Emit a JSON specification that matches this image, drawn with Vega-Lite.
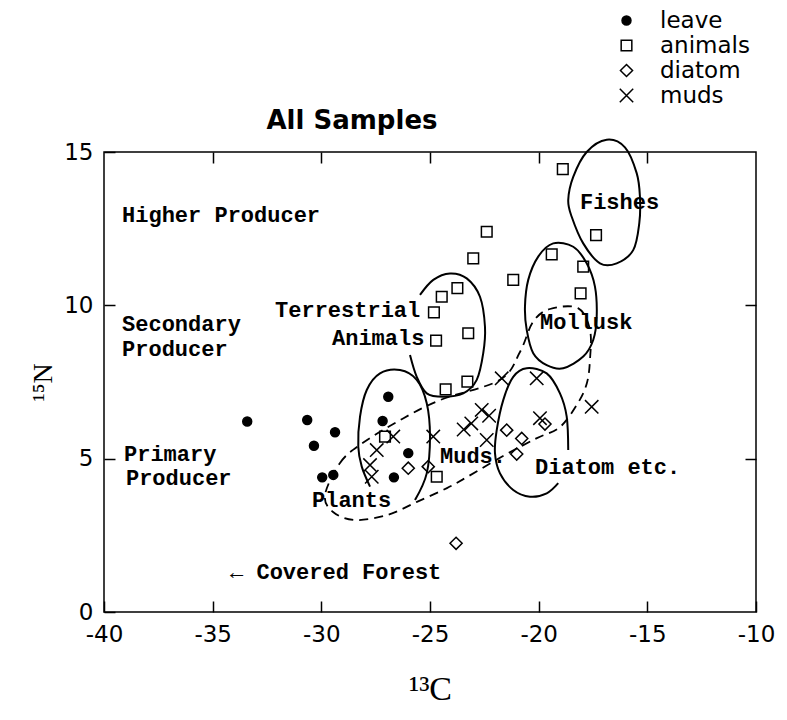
{
  "$schema": "https://vega.github.io/schema/vega-lite/v6.json",
  "autosize": {"type": "none"},
  "padding": {"left": 104, "top": 152, "right": 31, "bottom": 108},
  "width": 652,
  "height": 460,
  "background": "white",
  "title": {"text": "All Samples", "font": "DejaVu Sans", "fontSize": 26, "fontWeight": "bold", "anchor": "middle", "frame": "group", "dx": -78, "dy": 128, "offset": 3, "color": "black"},
  "config": {
    "view": {"stroke": "black", "strokeWidth": 1.5},
    "axis": {"domain": false, "grid": false, "tickColor": "black", "tickWidth": 1.5, "tickSize": -11, "labelColor": "black", "titleColor": "black"},
    "legend": {"padding": 0}
  },
  "datasets": {
    "points": [
      {"type": "leave", "c13": -33.41, "n15": 6.21},
      {"type": "leave", "c13": -30.65, "n15": 6.26},
      {"type": "leave", "c13": -29.37, "n15": 5.86},
      {"type": "leave", "c13": -30.34, "n15": 5.42},
      {"type": "leave", "c13": -29.96, "n15": 4.39},
      {"type": "leave", "c13": -29.45, "n15": 4.47},
      {"type": "leave", "c13": -26.92, "n15": 7.02},
      {"type": "leave", "c13": -27.18, "n15": 6.23},
      {"type": "leave", "c13": -26.0, "n15": 5.18},
      {"type": "leave", "c13": -26.66, "n15": 4.39},
      {"type": "animals", "c13": -18.89, "n15": 14.44},
      {"type": "animals", "c13": -22.39, "n15": 12.4},
      {"type": "animals", "c13": -17.36, "n15": 12.29},
      {"type": "animals", "c13": -23.01, "n15": 11.53},
      {"type": "animals", "c13": -19.4, "n15": 11.66},
      {"type": "animals", "c13": -17.95, "n15": 11.26},
      {"type": "animals", "c13": -21.17, "n15": 10.83},
      {"type": "animals", "c13": -18.07, "n15": 10.39},
      {"type": "animals", "c13": -23.74, "n15": 10.56},
      {"type": "animals", "c13": -24.46, "n15": 10.28},
      {"type": "animals", "c13": -24.82, "n15": 9.77},
      {"type": "animals", "c13": -24.72, "n15": 8.85},
      {"type": "animals", "c13": -23.24, "n15": 9.09},
      {"type": "animals", "c13": -23.28, "n15": 7.51},
      {"type": "animals", "c13": -24.28, "n15": 7.26},
      {"type": "animals", "c13": -27.07, "n15": 5.72},
      {"type": "animals", "c13": -24.69, "n15": 4.41},
      {"type": "diatom", "c13": -26.0, "n15": 4.69},
      {"type": "diatom", "c13": -25.08, "n15": 4.74},
      {"type": "diatom", "c13": -23.8, "n15": 2.24},
      {"type": "diatom", "c13": -21.47, "n15": 5.93},
      {"type": "diatom", "c13": -20.78, "n15": 5.66},
      {"type": "diatom", "c13": -21.01, "n15": 5.15},
      {"type": "diatom", "c13": -19.71, "n15": 6.13},
      {"type": "muds", "c13": -26.69, "n15": 5.72},
      {"type": "muds", "c13": -27.45, "n15": 5.28},
      {"type": "muds", "c13": -27.76, "n15": 4.79},
      {"type": "muds", "c13": -27.68, "n15": 4.41},
      {"type": "muds", "c13": -24.85, "n15": 5.72},
      {"type": "muds", "c13": -23.45, "n15": 5.95},
      {"type": "muds", "c13": -23.1, "n15": 6.15},
      {"type": "muds", "c13": -22.62, "n15": 6.59},
      {"type": "muds", "c13": -22.28, "n15": 6.4},
      {"type": "muds", "c13": -22.39, "n15": 5.61},
      {"type": "muds", "c13": -21.7, "n15": 7.62},
      {"type": "muds", "c13": -20.09, "n15": 7.62},
      {"type": "muds", "c13": -19.94, "n15": 6.32},
      {"type": "muds", "c13": -17.56, "n15": 6.69}
    ],
    "curves": [
      {"curve": "fish", "ord": 1, "c13": -16.87, "n15": 15.4},
      {"curve": "fish", "ord": 2, "c13": -16.03, "n15": 15.15},
      {"curve": "fish", "ord": 3, "c13": -15.49, "n15": 14.31},
      {"curve": "fish", "ord": 4, "c13": -15.34, "n15": 13.54},
      {"curve": "fish", "ord": 5, "c13": -15.37, "n15": 12.68},
      {"curve": "fish", "ord": 6, "c13": -15.65, "n15": 11.8},
      {"curve": "fish", "ord": 7, "c13": -16.41, "n15": 11.37},
      {"curve": "fish", "ord": 8, "c13": -17.18, "n15": 11.37},
      {"curve": "fish", "ord": 9, "c13": -17.95, "n15": 12.02},
      {"curve": "fish", "ord": 10, "c13": -18.48, "n15": 12.89},
      {"curve": "fish", "ord": 11, "c13": -18.64, "n15": 13.43},
      {"curve": "fish", "ord": 12, "c13": -18.41, "n15": 14.19},
      {"curve": "fish", "ord": 13, "c13": -17.79, "n15": 15.0},
      {"curve": "mollusk", "ord": 1, "c13": -19.33, "n15": 12.02},
      {"curve": "mollusk", "ord": 2, "c13": -18.41, "n15": 11.91},
      {"curve": "mollusk", "ord": 3, "c13": -17.79, "n15": 11.37},
      {"curve": "mollusk", "ord": 4, "c13": -17.41, "n15": 10.61},
      {"curve": "mollusk", "ord": 5, "c13": -17.33, "n15": 9.63},
      {"curve": "mollusk", "ord": 6, "c13": -17.49, "n15": 8.87},
      {"curve": "mollusk", "ord": 7, "c13": -17.95, "n15": 8.33},
      {"curve": "mollusk", "ord": 8, "c13": -18.87, "n15": 7.95},
      {"curve": "mollusk", "ord": 9, "c13": -19.63, "n15": 8.05},
      {"curve": "mollusk", "ord": 10, "c13": -20.25, "n15": 8.44},
      {"curve": "mollusk", "ord": 11, "c13": -20.55, "n15": 9.2},
      {"curve": "mollusk", "ord": 12, "c13": -20.63, "n15": 9.96},
      {"curve": "mollusk", "ord": 13, "c13": -20.48, "n15": 10.83},
      {"curve": "mollusk", "ord": 14, "c13": -20.02, "n15": 11.59},
      {"curve": "muds", "ord": 1, "c13": -29.83, "n15": 3.82},
      {"curve": "muds", "ord": 2, "c13": -29.14, "n15": 4.86},
      {"curve": "muds", "ord": 3, "c13": -28.22, "n15": 5.45},
      {"curve": "muds", "ord": 4, "c13": -26.52, "n15": 6.2},
      {"curve": "muds", "ord": 5, "c13": -24.54, "n15": 6.91},
      {"curve": "muds", "ord": 6, "c13": -21.78, "n15": 7.57},
      {"curve": "muds", "ord": 7, "c13": -20.86, "n15": 8.48},
      {"curve": "muds", "ord": 8, "c13": -20.26, "n15": 9.46},
      {"curve": "muds", "ord": 9, "c13": -19.48, "n15": 9.88},
      {"curve": "muds", "ord": 10, "c13": -18.19, "n15": 9.91},
      {"curve": "muds", "ord": 11, "c13": -17.64, "n15": 9.2},
      {"curve": "muds", "ord": 12, "c13": -17.64, "n15": 8.22},
      {"curve": "muds", "ord": 13, "c13": -17.78, "n15": 7.47},
      {"curve": "muds", "ord": 14, "c13": -18.19, "n15": 6.82},
      {"curve": "muds", "ord": 15, "c13": -19.02, "n15": 6.03},
      {"curve": "muds", "ord": 16, "c13": -20.08, "n15": 5.67},
      {"curve": "muds", "ord": 17, "c13": -21.55, "n15": 5.12},
      {"curve": "muds", "ord": 18, "c13": -23.3, "n15": 4.4},
      {"curve": "muds", "ord": 19, "c13": -24.22, "n15": 4.04},
      {"curve": "muds", "ord": 20, "c13": -25.6, "n15": 3.59},
      {"curve": "muds", "ord": 21, "c13": -26.98, "n15": 3.16},
      {"curve": "muds", "ord": 22, "c13": -28.45, "n15": 3.0},
      {"curve": "muds", "ord": 23, "c13": -29.46, "n15": 3.26},
      {"curve": "terrestrial", "ord": 1, "c13": -25.92, "n15": 8.38},
      {"curve": "terrestrial", "ord": 2, "c13": -25.61, "n15": 7.67},
      {"curve": "terrestrial", "ord": 3, "c13": -25.15, "n15": 7.13},
      {"curve": "terrestrial", "ord": 4, "c13": -24.39, "n15": 7.02},
      {"curve": "terrestrial", "ord": 5, "c13": -23.47, "n15": 7.13},
      {"curve": "terrestrial", "ord": 6, "c13": -22.85, "n15": 7.57},
      {"curve": "terrestrial", "ord": 7, "c13": -22.55, "n15": 8.44},
      {"curve": "terrestrial", "ord": 8, "c13": -22.47, "n15": 9.3},
      {"curve": "terrestrial", "ord": 9, "c13": -22.7, "n15": 10.28},
      {"curve": "terrestrial", "ord": 10, "c13": -23.31, "n15": 10.88},
      {"curve": "terrestrial", "ord": 11, "c13": -24.08, "n15": 11.04},
      {"curve": "terrestrial", "ord": 12, "c13": -24.85, "n15": 10.83},
      {"curve": "terrestrial", "ord": 13, "c13": -25.46, "n15": 10.34},
      {"curve": "plants", "ord": 1, "c13": -25.69, "n15": 3.65},
      {"curve": "plants", "ord": 2, "c13": -25.15, "n15": 4.52},
      {"curve": "plants", "ord": 3, "c13": -25.0, "n15": 5.72},
      {"curve": "plants", "ord": 4, "c13": -25.15, "n15": 6.81},
      {"curve": "plants", "ord": 5, "c13": -25.61, "n15": 7.57},
      {"curve": "plants", "ord": 6, "c13": -26.38, "n15": 7.89},
      {"curve": "plants", "ord": 7, "c13": -27.3, "n15": 7.78},
      {"curve": "plants", "ord": 8, "c13": -27.91, "n15": 7.24},
      {"curve": "plants", "ord": 9, "c13": -28.22, "n15": 6.37},
      {"curve": "plants", "ord": 10, "c13": -28.3, "n15": 5.39},
      {"curve": "plants", "ord": 11, "c13": -28.14, "n15": 4.74},
      {"curve": "plants", "ord": 12, "c13": -27.76, "n15": 4.09},
      {"curve": "diatom", "ord": 1, "c13": -18.64, "n15": 5.28},
      {"curve": "diatom", "ord": 2, "c13": -18.71, "n15": 6.37},
      {"curve": "diatom", "ord": 3, "c13": -19.02, "n15": 7.13},
      {"curve": "diatom", "ord": 4, "c13": -19.63, "n15": 7.78},
      {"curve": "diatom", "ord": 5, "c13": -20.55, "n15": 7.95},
      {"curve": "diatom", "ord": 6, "c13": -21.17, "n15": 7.67},
      {"curve": "diatom", "ord": 7, "c13": -21.63, "n15": 6.91},
      {"curve": "diatom", "ord": 8, "c13": -21.93, "n15": 5.93},
      {"curve": "diatom", "ord": 9, "c13": -22.01, "n15": 5.18},
      {"curve": "diatom", "ord": 10, "c13": -21.78, "n15": 4.52},
      {"curve": "diatom", "ord": 11, "c13": -21.17, "n15": 3.98},
      {"curve": "diatom", "ord": 12, "c13": -20.4, "n15": 3.76},
      {"curve": "diatom", "ord": 13, "c13": -19.63, "n15": 3.87},
      {"curve": "diatom", "ord": 14, "c13": -19.1, "n15": 4.2}
    ],
    "labels": [
      {"text": "Higher Producer", "c13": -39.17, "n15": 12.95},
      {"text": "Secondary", "c13": -39.17, "n15": 9.38},
      {"text": "Producer", "c13": -39.17, "n15": 8.56},
      {"text": "Primary", "c13": -39.08, "n15": 5.16},
      {"text": "Producer", "c13": -38.99, "n15": 4.36},
      {"text": "Terrestrial", "c13": -32.13, "n15": 9.85},
      {"text": "Animals", "c13": -29.51, "n15": 8.93},
      {"text": "Fishes", "c13": -18.1, "n15": 13.38},
      {"text": "Mollusk", "c13": -19.94, "n15": 9.45},
      {"text": "Muds.", "c13": -24.54, "n15": 5.09},
      {"text": "Diatom etc.", "c13": -20.17, "n15": 4.74},
      {"text": "Plants", "c13": -30.43, "n15": 3.65},
      {"text": "← Covered Forest", "c13": -34.2, "n15": 1.3}
    ]
  },
  "resolve": {"axis": {"x": "independent", "y": "independent"}},
  "layer": [
    {
      "data": {"name": "curves"},
      "transform": [{"filter": {"field": "curve", "oneOf": ["fish", "mollusk"]}}],
      "mark": {"type": "line", "interpolate": "cardinal-closed", "stroke": "black", "strokeWidth": 2},
      "encoding": {
        "x": {"field": "c13", "type": "quantitative", "scale": {"domain": [-40, -10], "nice": false, "zero": false},
          "axis": {"orient": "top", "values": [-35, -30, -25, -20, -15], "labels": false, "title": null}},
        "y": {"field": "n15", "type": "quantitative", "scale": {"domain": [0, 15], "nice": false, "zero": false},
          "axis": {"orient": "right", "values": [5, 10], "labels": false, "title": null}},
        "detail": {"field": "curve"},
        "order": {"field": "ord", "type": "quantitative"}
      }
    },
    {
      "data": {"name": "curves"},
      "transform": [{"filter": {"field": "curve", "oneOf": ["muds"]}}],
      "mark": {"type": "line", "interpolate": "cardinal-closed", "stroke": "black", "strokeWidth": 1.8, "strokeDash": [9, 6]},
      "encoding": {
        "x": {"field": "c13", "type": "quantitative", "axis": null},
        "y": {"field": "n15", "type": "quantitative", "axis": null},
        "detail": {"field": "curve"},
        "order": {"field": "ord", "type": "quantitative"}
      }
    },
    {
      "data": {"name": "curves"},
      "transform": [{"filter": {"field": "curve", "oneOf": ["terrestrial", "plants", "diatom"]}}],
      "mark": {"type": "line", "interpolate": "cardinal", "stroke": "black", "strokeWidth": 2},
      "encoding": {
        "x": {"field": "c13", "type": "quantitative", "axis": null},
        "y": {"field": "n15", "type": "quantitative", "axis": null},
        "detail": {"field": "curve"},
        "order": {"field": "ord", "type": "quantitative"}
      }
    },
    {
      "data": {"name": "labels"},
      "mark": {"type": "text", "font": "Liberation Mono", "fontSize": 22, "fontWeight": "bold", "align": "left", "baseline": "middle", "color": "black"},
      "encoding": {
        "x": {"field": "c13", "type": "quantitative", "axis": null},
        "y": {"field": "n15", "type": "quantitative", "axis": null},
        "text": {"field": "text"}
      }
    },
    {
      "data": {"name": "points"},
      "mark": {"type": "point", "stroke": "black", "strokeWidth": 1.5, "opacity": 1},
      "encoding": {
        "x": {"field": "c13", "type": "quantitative",
          "axis": {"orient": "bottom", "values": [-40, -35, -30, -25, -20, -15, -10], "labelExpr": "'' + datum.value", "labelFlush": false, "labelFont": "DejaVu Sans", "labelFontSize": 23, "labelPadding": 22, "title": "¹³C", "titleFont": "Liberation Serif", "titleFontSize": 34, "titleFontWeight": "normal", "titlePadding": 26}},
        "y": {"field": "n15", "type": "quantitative",
          "axis": {"orient": "left", "values": [0, 5, 10, 15], "labelFont": "DejaVu Sans", "labelFontSize": 23, "labelPadding": 22, "title": "¹⁵N", "titleFont": "Liberation Serif", "titleFontSize": 28, "titleFontWeight": "normal", "titlePadding": 6}},
        "shape": {"field": "type", "type": "nominal",
          "scale": {"domain": ["leave", "animals", "diatom", "muds"], "range": ["circle", "square", "diamond", "M-1,-1L1,1M-1,1L1,-1"]},
          "legend": {"title": null, "orient": "none", "legendX": 511, "legendY": -143, "labelFont": "DejaVu Sans", "labelFontSize": 23, "labelColor": "black", "labelOffset": 22, "rowPadding": 1,
            "encode": {"symbols": {"update": {"stroke": {"value": "black"}, "strokeWidth": {"value": 1.5}}}}}},
        "fill": {"field": "type", "type": "nominal",
          "scale": {"domain": ["leave", "animals", "diatom", "muds"], "range": ["black", "transparent", "transparent", "transparent"]},
          "legend": {"title": null, "orient": "none", "legendX": 511, "legendY": -143, "labelFont": "DejaVu Sans", "labelFontSize": 23, "labelColor": "black", "labelOffset": 22, "rowPadding": 1,
            "encode": {"symbols": {"update": {"stroke": {"value": "black"}, "strokeWidth": {"value": 1.5}}}}}},
        "size": {"field": "type", "type": "nominal",
          "scale": {"domain": ["leave", "animals", "diatom", "muds"], "range": [80, 180, 160, 210]},
          "legend": {"title": null, "orient": "none", "legendX": 511, "legendY": -143, "labelFont": "DejaVu Sans", "labelFontSize": 23, "labelColor": "black", "labelOffset": 22, "rowPadding": 1,
            "encode": {"symbols": {"update": {"stroke": {"value": "black"}, "strokeWidth": {"value": 1.5}}}}}}
      }
    }
  ]
}
